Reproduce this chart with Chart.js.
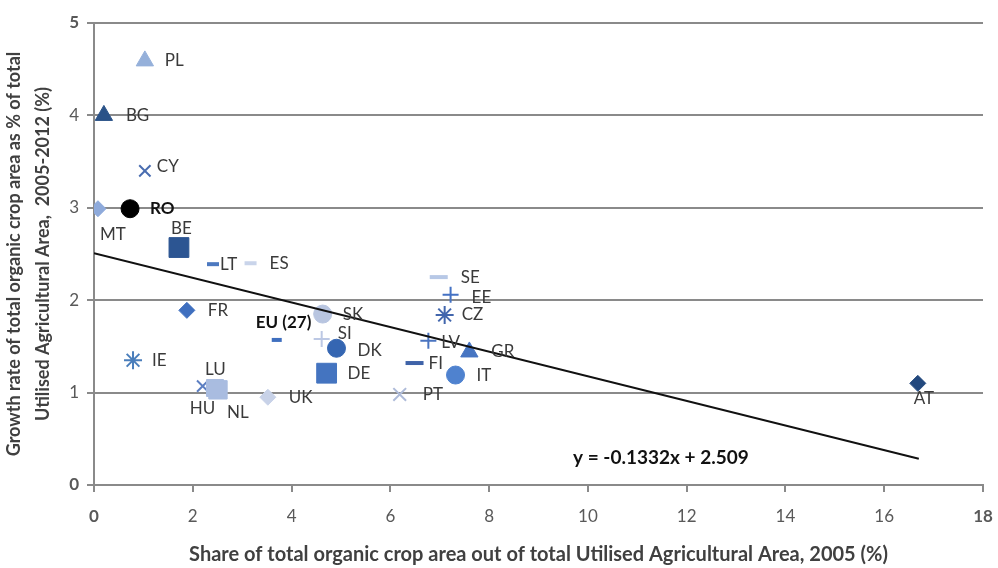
<!DOCTYPE html>
<html>
<head>
<meta charset="utf-8">
<script src="https://cdn.jsdelivr.net/npm/chart.js@4/dist/chart.umd.min.js"></script>
<style>
  html, body { margin: 0; padding: 0; background: #fff; }
  #wrap { width: 998px; height: 568px; }
</style>
</head>
<body>
<div id="wrap"><canvas id="chart"></canvas></div>
<script>
// data
const countries = ["PL", "BG", "CY", "MT", "RO", "BE", "LT", "ES", "SE", "EE", "CZ", "FR", "SK", "EU (27)",
  "SI", "DK", "LV", "GR", "FI", "IT", "DE", "PT", "IE", "UK", "HU", "LU", "NL", "AT"];
const shareX = [1.03, 0.2, 1.03, 0.08, 0.73, 1.72, 2.41, 3.17, 6.98, 7.22, 7.10, 1.88, 4.63, 3.70,
  4.61, 4.91, 6.77, 7.60, 6.49, 7.32, 4.71, 6.19, 0.79, 3.52, 2.20, 2.45, 2.51, 16.68];
const growthY = [4.59, 4.0, 3.40, 2.99, 2.99, 2.57, 2.39, 2.40, 2.25, 2.06, 1.84, 1.89, 1.85, 1.57,
  1.58, 1.48, 1.56, 1.44, 1.32, 1.19, 1.21, 0.98, 1.35, 0.95, 1.07, 1.05, 1.03, 1.10];
const trendSlope = -0.1332;
const trendIntercept = 2.509;
const trendRange = [0, 16.7];
const xTicks = [0, 2, 4, 6, 8, 10, 12, 14, 16, 18];
const yTicks = [0, 1, 2, 3, 4, 5];
const xTitle = "Share of total organic crop area out of total Utilised Agricultural Area, 2005 (%)";
const yTitle = ["Growth rate of total organic crop area as % of total", "Utilised Agricultural Area,  2005-2012 (%)"];
const equationText = "y = -0.1332x + 2.509";

// marker look per country
const markerStyle = {
  PL: ["triangle", "#95b0da", 10], BG: ["triangle", "#2a5288", 10], CY: ["crossRot", "#4a6db0", 8],
  MT: ["rectRot", "#8eaadb", 8], RO: ["circle", "#000000", 9], BE: ["rect", "#2c5592", 14],
  LT: ["line", "#4d79c0", 6], ES: ["line", "#c9d4ea", 6], SE: ["line", "#b7c8e6", 9],
  EE: ["cross", "#4472c4", 8], CZ: ["star", "#4266ad", 9], FR: ["rectRot", "#3f6fbf", 8],
  SK: ["circle", "#b8c5e0", 9], "EU (27)": ["line", "#3f6fbf", 5], SI: ["cross", "#bcc8e4", 8],
  DK: ["circle", "#3566b2", 9], LV: ["cross", "#4a74c0", 8], GR: ["triangle", "#4775c2", 10],
  FI: ["line", "#3f63a8", 9], IT: ["circle", "#4f82cf", 9], DE: ["rect", "#4474c0", 14],
  PT: ["crossRot", "#aebbd9", 9], IE: ["star", "#4a7ebb", 9], UK: ["rectRot", "#c8d2e8", 8],
  HU: ["crossRot", "#5d7fc2", 8], LU: ["rect", "#a9bce0", 12], NL: ["rect", "#a9bce0", 13],
  AT: ["rectRot", "#23497e", 8]
};

// where each label sits relative to its marker (dx, dy in px)
const labelShift = {
  PL: [20, 0], BG: [22, 0], CY: [12, -4], RO: [20, 0], MT: [2, 26], BE: [-8, -19], LT: [7, 0],
  ES: [19, 0], SE: [22, 0], EE: [21, 3], CZ: [17, 0], FR: [21, 0], SK: [20, 0], "EU (27)": [-21, -17],
  SI: [16, -5], DK: [21, 2], LV: [13, 2], GR: [22, 0], FI: [14, 0], IT: [21, 0], DE: [21, 0],
  PT: [23, 0], IE: [19, 0], UK: [21, 0], HU: [-13, 22], LU: [-10, -18], NL: [9, 23], AT: [-4, 15]
};
const boldLabels = ["RO", "EU (27)"];

const FONT = "Lato, 'Open Sans', sans-serif";

const points = countries.map((c, i) => ({ x: shareX[i], y: growthY[i] }));
const styles = countries.map(c => markerStyle[c][0]);
const colors = countries.map(c => markerStyle[c][1]);
const radii = countries.map(c => markerStyle[c][2]);
const borderWidths = countries.map(c => {
  const s = markerStyle[c][0];
  if (s === "line") return 4;
  if (s === "cross" || s === "crossRot" || s === "star") return 2;
  return 1;
});

const pointLabels = {
  id: "pointLabels",
  afterDatasetsDraw(chart) {
    const ctx = chart.ctx;
    const meta = chart.getDatasetMeta(1);
    ctx.save();
    ctx.textBaseline = "middle";
    ctx.textAlign = "left";
    meta.data.forEach((el, i) => {
      const name = countries[i];
      const sh = labelShift[name] || [20, 0];
      const bold = boldLabels.includes(name);
      ctx.font = (bold ? "bold " : "") + "17px " + FONT;
      ctx.fillStyle = bold ? "#111" : "#3a3a3a";
      ctx.fillText(name, el.x + sh[0], el.y + sh[1]);
    });
    // regression equation
    const xs = chart.scales.x, ys = chart.scales.y;
    ctx.font = "bold 19px " + FONT;
    ctx.fillStyle = "#111";
    ctx.fillText(equationText, xs.getPixelForValue(9.7), ys.getPixelForValue(0.29));
    ctx.restore();
  }
};

const boldEnds = (vals) => (c) => {
  const v = c && c.tick ? c.tick.value : null;
  const end = v === vals[0] || v === vals[vals.length - 1];
  return { family: FONT, size: 17, weight: end ? "bold" : "normal" };
};

new Chart(document.getElementById("chart"), {
  type: "scatter",
  data: {
    datasets: [
      {
        type: "line",
        data: trendRange.map(x => ({ x: x, y: trendSlope * x + trendIntercept })),
        borderColor: "#111",
        borderWidth: 2,
        pointRadius: 0,
        fill: false
      },
      {
        data: points,
        pointStyle: styles,
        backgroundColor: colors,
        borderColor: colors,
        pointRadius: radii,
        pointBorderWidth: borderWidths,
        pointHoverRadius: radii
      }
    ]
  },
  options: {
    responsive: true,
    maintainAspectRatio: false,
    animation: false,
    layout: { padding: { top: 23, right: 13, left: 0, bottom: 0 } },
    plugins: { legend: { display: false }, tooltip: { enabled: false } },
    scales: {
      x: {
        type: "linear",
        min: 0, max: 18,
        afterBuildTicks: s => { s.ticks = xTicks.map(v => ({ value: v })); },
        afterFit: s => { s.height = 83; s.paddingRight = 0; s.paddingLeft = 0; },
        ticks: { color: "#595959", font: boldEnds(xTicks), padding: 14, maxRotation: 0 },
        grid: { drawOnChartArea: false, drawTicks: true, tickLength: 7, color: "#8a8a8a", lineWidth: 2 },
        border: { color: "#8a8a8a", width: 2 },
        title: {
          display: true, text: xTitle, color: "#404040",
          font: { family: FONT, size: 20, weight: "bold", lineHeight: 1.2 },
          padding: { top: 0, bottom: 1 }
        }
      },
      y: {
        min: 0, max: 5,
        afterBuildTicks: s => { s.ticks = yTicks.map(v => ({ value: v })); },
        afterFit: s => { s.width = 94; s.paddingTop = 0; s.paddingBottom = 0; },
        ticks: { color: "#595959", font: boldEnds(yTicks), padding: 8 },
        grid: { color: "#8a8a8a", lineWidth: 2, tickLength: 7 },
        border: { color: "#8a8a8a", width: 2 },
        title: {
          display: true, text: yTitle, color: "#404040",
          font: { family: FONT, size: 18, weight: "bold", lineHeight: 1.6 },
          padding: { top: 0, bottom: 0 }
        }
      }
    }
  },
  plugins: [pointLabels]
});
</script>
</body>
</html>
